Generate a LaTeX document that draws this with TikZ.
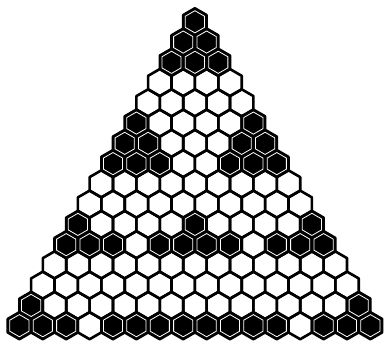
\documentclass[tikz,border=0pt]{standalone}
\begin{document}
\begin{tikzpicture}[x=1pt,y=1pt]
\useasboundingbox (0,0) rectangle (388,343);
\def\hw{23.4}
\def\hr{13.51}
\def\vs{20.26}
\tikzset{
  hexcell/.pic={\path[pic actions] (30:\hr) -- (90:\hr) -- (150:\hr) -- (210:\hr) -- (270:\hr) -- (330:\hr) -- cycle;},
  cellline/.style={draw=black,line width=2.6pt,line join=round},
  blackfill/.style={fill=black},
  ring/.style={draw=white,line width=0.8pt,line join=miter,scale=0.82}
}
\def\blackcells{1/1,2/1,2/2,3/1,3/2,3/3,6/1,6/6,7/1,7/2,7/6,7/7,8/1,8/2,8/3,8/6,8/7,8/8,11/1,11/6,11/11,12/1,12/2,12/3,12/5,12/6,12/7,12/8,12/10,12/11,12/12,15/1,15/15,16/1,16/2,16/3,16/5,16/6,16/7,16/8,16/9,16/10,16/11,16/12,16/14,16/15,16/16}
% black fills
\foreach \r/\c in \blackcells {
  \pgfmathsetmacro\cx{194.9+(\c-(\r+1)/2)*\hw}
  \pgfmathsetmacro\cy{343-21.8-(\r-1)*\vs}
  \pic[blackfill] at (\cx,\cy) {hexcell};
}
% outlines of all cells
\foreach \r in {1,...,16}{
  \foreach \c in {1,...,\r}{
    \pgfmathsetmacro\cx{194.9+(\c-(\r+1)/2)*\hw}
    \pgfmathsetmacro\cy{343-21.8-(\r-1)*\vs}
    \pic[cellline] at (\cx,\cy) {hexcell};
  }
}
% white rings inside black cells
\foreach \r/\c in \blackcells {
  \pgfmathsetmacro\cx{194.9+(\c-(\r+1)/2)*\hw}
  \pgfmathsetmacro\cy{343-21.8-(\r-1)*\vs}
  \pic[ring] at (\cx,\cy) {hexcell};
}
\end{tikzpicture}
\end{document}
